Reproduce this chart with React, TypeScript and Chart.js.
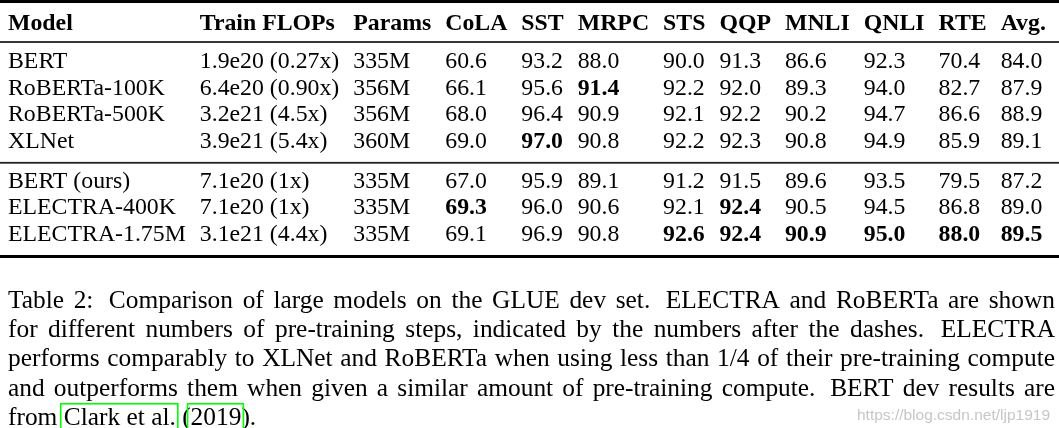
import React, { useEffect, useRef } from "react";
import { Chart, registerables } from "chart.js";

Chart.register(...registerables);

// ---------------- data ----------------
const columns = ["Model", "Train FLOPs", "Params", "CoLA", "SST", "MRPC", "STS", "QQP", "MNLI", "QNLI", "RTE", "Avg."];
const modelsGroup1 = ["BERT", "RoBERTa-100K", "RoBERTa-500K", "XLNet"];
const modelsGroup2 = ["BERT (ours)", "ELECTRA-400K", "ELECTRA-1.75M"];
const trainFlops = ["1.9e20 (0.27x)", "6.4e20 (0.90x)", "3.2e21 (4.5x)", "3.9e21 (5.4x)", "7.1e20 (1x)", "7.1e20 (1x)", "3.1e21 (4.4x)"];
const params = ["335M", "356M", "356M", "360M", "335M", "335M", "335M"];
const cola = [60.6, 66.1, 68.0, 69.0, 67.0, 69.3, 69.1];
const sst = [93.2, 95.6, 96.4, 97.0, 95.9, 96.0, 96.9];
const mrpc = [88.0, 91.4, 90.9, 90.8, 89.1, 90.6, 90.8];
const sts = [90.0, 92.2, 92.1, 92.2, 91.2, 92.1, 92.6];
const qqp = [91.3, 92.0, 92.2, 92.3, 91.5, 92.4, 92.4];
const mnli = [86.6, 89.3, 90.2, 90.8, 89.6, 90.5, 90.9];
const qnli = [92.3, 94.0, 94.7, 94.9, 93.5, 94.5, 95.0];
const rte = [70.4, 82.7, 86.6, 85.9, 79.5, 86.8, 88.0];
const avg = [84.0, 87.9, 88.9, 89.1, 87.2, 89.0, 89.5];

const captionLines = [
  "Table 2: Comparison of large models on the GLUE dev set. ELECTRA and RoBERTa are shown",
  "for different numbers of pre-training steps, indicated by the numbers after the dashes. ELECTRA",
  "performs comparably to XLNet and RoBERTa when using less than 1/4 of their pre-training compute",
  "and outperforms them when given a similar amount of pre-training compute. BERT dev results are",
  "from Clark et al. (2019).",
];
const citations = ["Clark et al.", "2019"];
const watermark = "https://blog.csdn.net/ljp1919";

// ---------------- style ----------------
const W = 1059;
const H = 428;
const FS = 23.8; // table font size
const CAP_FS = 25.4;
const SERIF = '"Liberation Serif", "Times New Roman", serif';
const COL_SEP = 14;
const LEFT_PAD = 8;
const ROW_PX = 26.5;
const HEADER_BASE = 30;

type Cell = { text: string; bold: boolean };

function buildRows(): Cell[][] {
  const numeric = [cola, sst, mrpc, sts, qqp, mnli, qnli, rte, avg];
  const maxes = numeric.map((a) => Math.max(...a));
  const names = [...modelsGroup1, ...modelsGroup2];
  return names.map((name, i) => [
    { text: name, bold: false },
    { text: trainFlops[i], bold: false },
    { text: params[i], bold: false },
    ...numeric.map((a, k) => ({ text: a[i].toFixed(1), bold: a[i] === maxes[k] })),
  ]);
}

function rowValues(): number[] {
  const vals: number[] = [];
  const headerGap = 38 / ROW_PX;
  const groupGap = 0.528;
  modelsGroup1.forEach((_, i) => vals.push(headerGap + i));
  modelsGroup2.forEach((_, i) => vals.push(headerGap + modelsGroup1.length + groupGap + i));
  return vals;
}

export default function App() {
  const ref = useRef<HTMLCanvasElement | null>(null);

  useEffect(() => {
    document.body.style.margin = "0";
    const canvas = ref.current!;
    const rows = buildRows();
    const rv = rowValues();

    const mctx = document.createElement("canvas").getContext("2d")!;
    const widthOf = (t: string, bold: boolean) => {
      mctx.font = `${bold ? "bold " : ""}${FS}px ${SERIF}`;
      return mctx.measureText(t).width;
    };
    const colLeftEm: number[] = [];
    let acc = 0;
    columns.forEach((h, j) => {
      colLeftEm.push(acc / FS);
      let w = widthOf(h, true);
      rows.forEach((r) => (w = Math.max(w, widthOf(r[j].text, r[j].bold))));
      acc += w + COL_SEP;
    });

    const xMin = -LEFT_PAD / FS;
    const xMax = xMin + W / FS;
    const yMin = -HEADER_BASE / ROW_PX;
    const yMax = yMin + H / ROW_PX;

    const points: { x: number; y: number }[] = [];
    rows.forEach((r, i) => r.forEach((_, j) => points.push({ x: colLeftEm[j], y: rv[i] })));

    const tablePlugin = {
      id: "tableDraw",
      afterDraw(chart: any) {
        const ctx: CanvasRenderingContext2D = chart.ctx;
        const xs = chart.scales.x;
        const ys = chart.scales.y;
        ctx.save();
        ctx.fillStyle = "#fff";
        ctx.fillRect(0, 0, W, H);
        ctx.fillStyle = "#000";
        ctx.textBaseline = "alphabetic";
        ctx.textAlign = "left";

        ctx.font = `bold ${FS}px ${SERIF}`;
        columns.forEach((h, j) => ctx.fillText(h, xs.getPixelForValue(colLeftEm[j]), ys.getPixelForValue(0)));
        rows.forEach((r, i) => {
          r.forEach((c, j) => {
            ctx.font = `${c.bold ? "bold " : ""}${FS}px ${SERIF}`;
            ctx.fillText(c.text, xs.getPixelForValue(colLeftEm[j]), ys.getPixelForValue(rv[i]));
          });
        });

        const rule = (v: number, t: number, color: string) => {
          const y = ys.getPixelForValue(v);
          ctx.fillStyle = color;
          ctx.fillRect(0, y - t / 2, W, t);
        };
        rule(-1.075, 3, "#000");
        rule(0.453, 1.8, "#222");
        rule(rv[modelsGroup1.length - 1] + 0.577, 1.8, "#222");
        rule(rv[rv.length - 1] + 0.585, 3, "#000");

        ctx.fillStyle = "#000";
        ctx.font = `${CAP_FS}px ${SERIF}`;
        const capLeft = 8;
        const capRight = 1055;
        const target = capRight - capLeft;
        const base0 = ys.getPixelForValue(rv[rv.length - 1]) + 67;
        const lh = 29.2;
        const spaceW = ctx.measureText(" ").width;
        captionLines.forEach((line, li) => {
          const y = base0 + li * lh;
          const words = line.split(" ");
          const ww = words.map((w) => ctx.measureText(w).width);
          const sumW = ww.reduce((a, b) => a + b, 0);
          const weights = words.slice(0, -1).map((w) => (/[.:]$/.test(w) && w !== "al." ? 1.6 : 1));
          const sumWt = weights.reduce((a, b) => a + b, 0);
          const last = li === captionLines.length - 1;
          const natural = sumW + sumWt * spaceW;
          let sx = 1;
          let unit = spaceW;
          if (!last) {
            if (natural > target) sx = target / natural;
            else unit = (target - sumW) / sumWt;
          }
          ctx.save();
          ctx.translate(capLeft, y);
          ctx.scale(sx, 1);
          let x = 0;
          words.forEach((w, k) => {
            ctx.fillText(w, x, 0);
            x += ww[k] + (k < weights.length ? weights[k] * unit : 0);
          });
          ctx.restore();
          if (last) {
            ctx.strokeStyle = "#00ff00";
            ctx.lineWidth = 1.6;
            citations.forEach((c) => {
              const idx = line.indexOf(c);
              const pre = ctx.measureText(line.slice(0, idx)).width;
              const cw = ctx.measureText(c).width;
              ctx.strokeRect(capLeft + pre - 3, y - 21, cw + 5, 30);
            });
          }
        });

        ctx.font = `15.5px "Liberation Sans", sans-serif`;
        ctx.fillStyle = "rgba(195,195,195,0.95)";
        ctx.textAlign = "right";
        ctx.fillText(watermark, 1050, 420);
        ctx.restore();
      },
    };

    const chart = new Chart(canvas, {
      type: "scatter",
      data: { datasets: [{ data: points, pointRadius: 0, pointHoverRadius: 0 }] },
      options: {
        animation: false,
        responsive: false,
        events: [],
        layout: { padding: 0 },
        plugins: { legend: { display: false }, tooltip: { enabled: false } },
        scales: {
          x: { type: "linear", display: false, min: xMin, max: xMax },
          y: { type: "linear", display: false, min: yMin, max: yMax, reverse: true },
        },
      },
      plugins: [tablePlugin],
    });
    return () => chart.destroy();
  }, []);

  return (
    <div style={{ position: "absolute", left: 0, top: 0, width: W, height: H, background: "#fff" }}>
      <canvas ref={ref} width={W} height={H} style={{ width: W, height: H, display: "block" }} />
    </div>
  );
}
